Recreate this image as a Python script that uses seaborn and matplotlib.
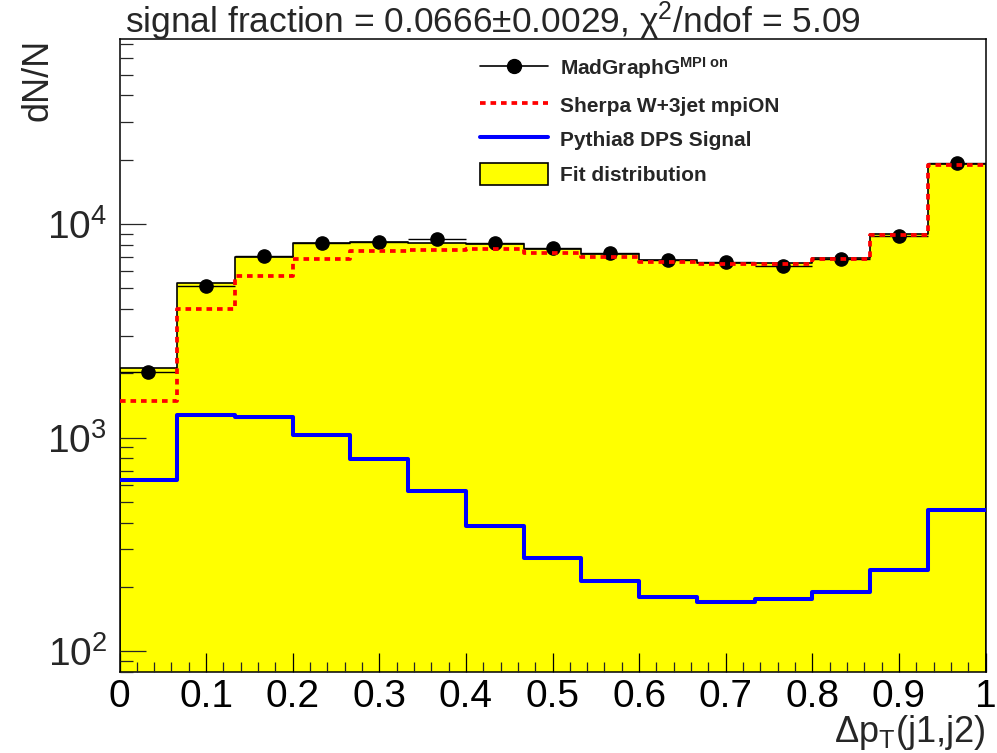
import numpy as np
import pandas as pd
import matplotlib
matplotlib.use("Agg")
import matplotlib.pyplot as plt
from matplotlib.lines import Line2D
from matplotlib.patches import Patch
from matplotlib.ticker import MultipleLocator, FixedLocator, FixedFormatter, LogLocator, NullFormatter
import seaborn as sns

# 15 equal-width bins of Delta pT(j1,j2) on [0, 1]
n_bins = 15
bin_edges = [i / n_bins for i in range(n_bins + 1)]

# Fitted template sum (yellow)
fit_values = [2110, 5270, 7030, 8120, 8240, 8180, 8030, 7620,
              7260, 6780, 6590, 6590, 6950, 8980, 19160]
# MadGraph data points
madgraph_values = [2030, 5130, 7080, 8180, 8260, 8510, 8180, 7740,
                   7340, 6780, 6660, 6360, 6830, 8790, 19250]
# Sherpa W+3jet background template
sherpa_values = [1480, 4000, 5730, 6880, 7500, 7580, 7610, 7290,
                 7000, 6660, 6480, 6480, 6830, 8880, 18900]
# Pythia8 DPS signal template
signal_values = [637, 1274, 1252, 1028, 791, 562, 385, 273,
                 213, 180, 170, 175, 190, 240, 461]

x_tick_values = [0.0, 0.1, 0.2, 0.3, 0.4, 0.5, 0.6, 0.7, 0.8, 0.9, 1.0]
x_tick_labels = ["0", "0.1", "0.2", "0.3", "0.4", "0.5", "0.6", "0.7", "0.8", "0.9", "1"]

legend_labels = ["MadGraphG$^{\\mathbf{MPI\\ on}}$", "Sherpa W+3jet mpiON",
                 "Pythia8 DPS Signal", "Fit distribution"]
title_text = "signal fraction = 0.0666\u00b10.0029, $\\mathrm{\\chi}^{2}$/ndof = 5.09"

sns.set_style("ticks")
plt.rcParams["font.family"] = ["Liberation Sans", "DejaVu Sans"]
plt.rcParams["mathtext.fontset"] = "custom"
plt.rcParams["mathtext.rm"] = "Liberation Sans"
plt.rcParams["mathtext.it"] = "Liberation Sans:italic"
plt.rcParams["mathtext.bf"] = "Liberation Sans:bold"
plt.rcParams["mathtext.default"] = "regular"

edges_arr = np.asarray(bin_edges)
centers = 0.5 * (edges_arr[:-1] + edges_arr[1:])
half_width = 0.5 * (edges_arr[1] - edges_arr[0])
df = pd.DataFrame({
    "dpt": centers,
    "fit": fit_values,
    "madgraph": madgraph_values,
    "sherpa": sherpa_values,
    "signal": signal_values,
})

fig = plt.figure(figsize=(9.97, 7.53), dpi=100)
ax = fig.add_axes([119.5 / 997, 1 - 672 / 753, (985.5 - 119.5) / 997, (672 - 39) / 753])

yellow = "#ffff00"
red_dots = (0, (1.5, 1.3))

# Fit distribution: filled step histogram with black outline
sns.histplot(data=df, x="dpt", weights="fit", bins=bin_edges, element="step",
             fill=True, facecolor=yellow, edgecolor="black", linewidth=1.2,
             alpha=1, ax=ax, zorder=1)

# MadGraph points with horizontal bin-width bars
ax.errorbar(df["dpt"], df["madgraph"], xerr=half_width, fmt="o", color="black",
            ms=9.5, elinewidth=1.0, capsize=0, zorder=3)

# Sherpa background template
sns.histplot(data=df, x="dpt", weights="sherpa", bins=bin_edges, element="step",
             fill=False, color="red", linewidth=2.7, linestyle=red_dots, ax=ax, zorder=4)

# Pythia8 DPS signal template
sns.histplot(data=df, x="dpt", weights="signal", bins=bin_edges, element="step",
             fill=False, color="blue", linewidth=2.9, ax=ax, zorder=5)

ax.set_yscale("log")
ax.set_xlim(0, 1)
ax.set_ylim(80, 73500)

ax.xaxis.set_major_locator(FixedLocator(x_tick_values))
ax.xaxis.set_major_formatter(FixedFormatter(x_tick_labels))
ax.xaxis.set_minor_locator(MultipleLocator(0.02))
ax.yaxis.set_major_locator(LogLocator(base=10))
ax.yaxis.set_minor_locator(LogLocator(base=10, subs=np.arange(2, 10)))
ax.yaxis.set_minor_formatter(NullFormatter())

ax.set_axisbelow(False)
ax.tick_params(axis="x", which="major", direction="in", length=13.7, width=0.9,
               labelsize=28, pad=5, top=False, colors="black")
ax.tick_params(axis="x", which="minor", direction="in", length=7.2, width=0.9, top=False)
ax.tick_params(axis="y", which="major", direction="in", length=18.7, width=0.9,
               labelsize=28, pad=9, right=False)
ax.tick_params(axis="y", which="minor", direction="in", length=9.4, width=0.9, right=False)

for side in ["left", "right", "top", "bottom"]:
    ax.spines[side].set_linewidth(1.1)
    ax.spines[side].set_color("black")
    ax.spines[side].set_visible(True)

ax.set_xlabel("$\\Delta p_{T}$(j1,j2)", fontsize=26, loc="right")
ax.xaxis.set_label_coords(1.0, -0.064)
ax.set_ylabel("dN/N", fontsize=26, loc="top")
ax.yaxis.set_label_coords(-0.074, 1.0)

fig.text(125 / 997, 1 - 33 / 753, title_text, fontsize=25.5, ha="left", va="baseline")

handles = [
    Line2D([0], [0], color="black", lw=1.2, marker="o", ms=10),
    Line2D([0], [0], color="red", lw=2.7, linestyle=red_dots),
    Line2D([0], [0], color="blue", lw=2.9),
    Patch(facecolor=yellow, edgecolor="black", linewidth=1.2),
]
ax.legend(handles, legend_labels, loc="upper left",
          bbox_to_anchor=(480 / 997, 1 - 55 / 753), bbox_transform=fig.transFigure,
          frameon=False, borderpad=0, borderaxespad=0, handlelength=3.25,
          handleheight=1.22, handletextpad=0.6, labelspacing=0.62,
          prop={"weight": "bold", "size": 15})

fig.savefig("out.png", dpi=100)
